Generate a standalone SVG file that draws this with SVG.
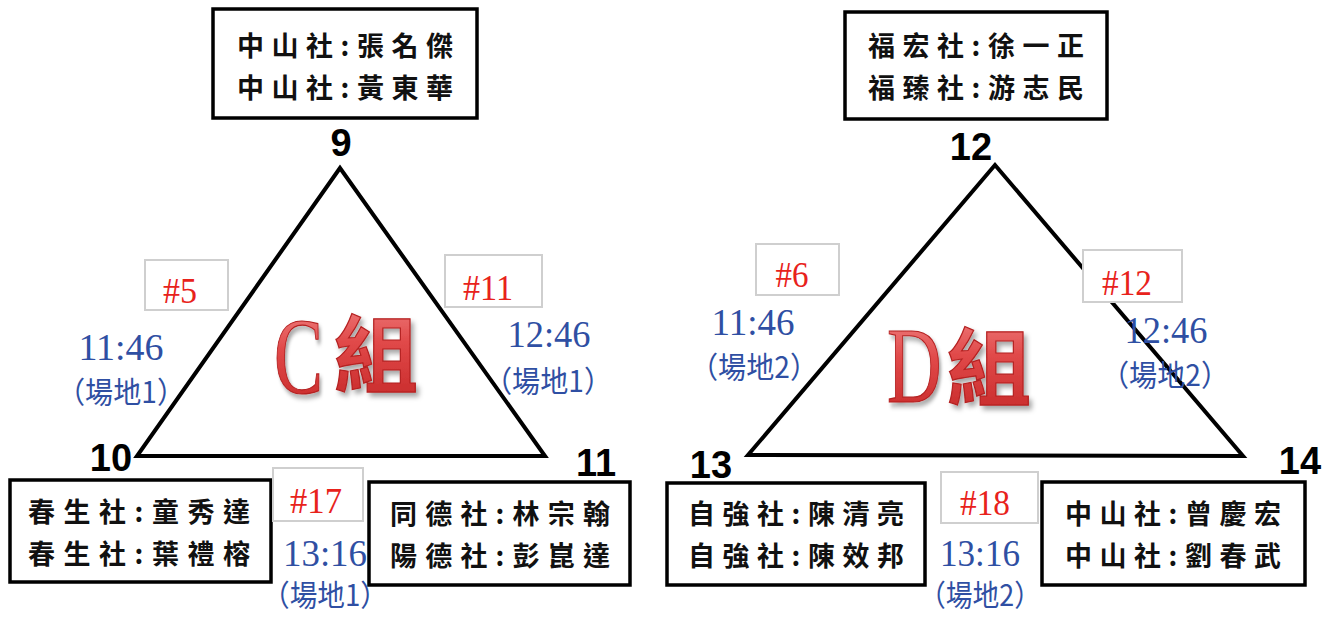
<svg xmlns="http://www.w3.org/2000/svg" width="1332" height="617" viewBox="0 0 1332 617">
<style>
.tri{fill:none;stroke:#000;stroke-width:4;stroke-linejoin:miter}
.box{fill:#fff;stroke:#000;stroke-width:3.5}
.lbl{fill:#fff;stroke:#cfcfcf;stroke-width:2}
.nm{font-family:"Noto Sans CJK TC","Noto Sans CJK SC",sans-serif;font-size:27px;font-weight:bold;fill:#111;text-anchor:middle}
.num{font-family:"Liberation Sans",Arial,sans-serif;font-size:38px;font-weight:bold;fill:#000;text-anchor:middle}
.mt{font-family:"Liberation Serif","Times New Roman",serif;font-size:36px;fill:#e8221b;text-anchor:middle}
.tm{font-family:"Liberation Serif","Times New Roman",serif;font-size:37px;fill:#2f4fa3;text-anchor:middle}
.ven{font-family:"Noto Sans CJK TC","Noto Sans CJK SC",sans-serif;font-size:30px;fill:#2f4fa3;text-anchor:middle}
.grp{fill:url(#rg);stroke:#b42020;stroke-width:1.2;filter:url(#sh)}
.gl{font-family:"Liberation Serif","Times New Roman",serif;font-size:108px}
.gc{font-family:"Noto Sans CJK TC","Noto Sans CJK SC",sans-serif;font-size:84px;font-weight:bold}
</style>
<defs>
<linearGradient id="rg" x1="0" y1="0" x2="0" y2="1">
<stop offset="0" stop-color="#f28a8a"/>
<stop offset="0.45" stop-color="#e04848"/>
<stop offset="1" stop-color="#c42626"/>
</linearGradient>
<filter id="sh" x="-20%" y="-20%" width="140%" height="140%">
<feDropShadow dx="3" dy="4" stdDeviation="2.5" flood-color="#000" flood-opacity="0.35"/>
</filter>
</defs>
<rect width="1332" height="617" fill="#fff"/>

<g id="connectors">
<polygon class="tri" points="340,168 137,456 545,456"/>
<polygon class="tri" points="995,165 748,455 1243,456"/>
</g>

<g id="groupC">
<text class="grp gl" transform="translate(274,393) scale(0.68,1)">C</text>
<text x="334" y="386" class="grp gc">組</text>
</g>
<g id="groupD">
<text class="grp gl" transform="translate(887,402) scale(0.7,1)">D</text>
<text x="947" y="399" class="grp gc">組</text>
</g>

<g id="node9">
<rect class="box" x="213" y="9" width="264" height="109"/>
<text class="nm" x="345" y="56" textLength="216">中山社:張名傑</text>
<text class="nm" x="345" y="98" textLength="216">中山社:黃東華</text>
<text class="num" x="341" y="156">9</text>
</g>

<g id="node12">
<rect class="box" x="845" y="12" width="262" height="107"/>
<text class="nm" x="976" y="56" textLength="216">福宏社:徐一正</text>
<text class="nm" x="976" y="98" textLength="216">福臻社:游志民</text>
<text class="num" x="971" y="160">12</text>
</g>

<g id="node10">
<rect class="box" x="10" y="480" width="261" height="102"/>
<text class="nm" x="139" y="522" textLength="222">春生社:童秀達</text>
<text class="nm" x="139" y="564" textLength="222">春生社:葉禮榕</text>
<text class="num" x="111" y="471">10</text>
</g>

<g id="node11">
<rect class="box" x="369" y="482" width="261" height="103"/>
<text class="nm" x="500" y="524" textLength="220">同德社:林宗翰</text>
<text class="nm" x="500" y="566" textLength="220">陽德社:彭崑達</text>
<text class="num" x="596" y="476">11</text>
</g>

<g id="node13">
<rect class="box" x="667" y="483" width="258" height="102"/>
<text class="nm" x="796" y="524" textLength="216">自強社:陳清亮</text>
<text class="nm" x="796" y="566" textLength="216">自強社:陳效邦</text>
<text class="num" x="711" y="478">13</text>
</g>

<g id="node14">
<rect class="box" x="1042" y="482" width="263" height="103"/>
<text class="nm" x="1173" y="524" textLength="216">中山社:曾慶宏</text>
<text class="nm" x="1173" y="566" textLength="216">中山社:劉春武</text>
<text class="num" x="1300" y="474">14</text>
</g>

<g id="match5">
<rect class="lbl" x="145" y="260" width="83" height="50"/>
<text class="mt" x="180" y="303" textLength="34" lengthAdjust="spacingAndGlyphs">#5</text>
<text class="tm" x="121" y="360" textLength="85" lengthAdjust="spacingAndGlyphs">11:46</text>
<text class="ven" x="121" y="403" textLength="128" lengthAdjust="spacingAndGlyphs">（場地1）</text>
</g>

<g id="match11">
<rect class="lbl" x="445" y="255" width="97" height="52"/>
<text class="mt" x="488" y="300" textLength="50" lengthAdjust="spacingAndGlyphs">#11</text>
<text class="tm" x="549" y="347" textLength="83" lengthAdjust="spacingAndGlyphs">12:46</text>
<text class="ven" x="548" y="392" textLength="128" lengthAdjust="spacingAndGlyphs">（場地1）</text>
</g>

<g id="match17">
<rect class="lbl" x="273" y="468" width="90" height="53"/>
<text class="mt" x="316" y="513" textLength="52" lengthAdjust="spacingAndGlyphs">#17</text>
<text class="tm" x="325" y="566" textLength="84" lengthAdjust="spacingAndGlyphs">13:16</text>
<text class="ven" x="325" y="606" font-size="29" textLength="126" lengthAdjust="spacingAndGlyphs">（場地1）</text>
</g>

<g id="match6">
<rect class="lbl" x="756" y="244" width="83" height="51"/>
<text class="mt" x="792" y="287" textLength="33" lengthAdjust="spacingAndGlyphs">#6</text>
<text class="tm" x="753" y="335" textLength="83" lengthAdjust="spacingAndGlyphs">11:46</text>
<text class="ven" x="754" y="378" textLength="128" lengthAdjust="spacingAndGlyphs">（場地2）</text>
</g>

<g id="match12">
<rect class="lbl" x="1083" y="250" width="99" height="52"/>
<text class="mt" x="1127" y="295" textLength="50" lengthAdjust="spacingAndGlyphs">#12</text>
<text class="tm" x="1166" y="343" textLength="83" lengthAdjust="spacingAndGlyphs">12:46</text>
<text class="ven" x="1165" y="386" textLength="128" lengthAdjust="spacingAndGlyphs">（場地2）</text>
</g>

<g id="match18">
<rect class="lbl" x="941" y="472" width="97" height="51"/>
<text class="mt" x="985" y="515" textLength="50" lengthAdjust="spacingAndGlyphs">#18</text>
<text class="tm" x="980" y="566" textLength="80" lengthAdjust="spacingAndGlyphs">13:16</text>
<text class="ven" x="980" y="606" font-size="29" textLength="122" lengthAdjust="spacingAndGlyphs">（場地2）</text>
</g>
</svg>
